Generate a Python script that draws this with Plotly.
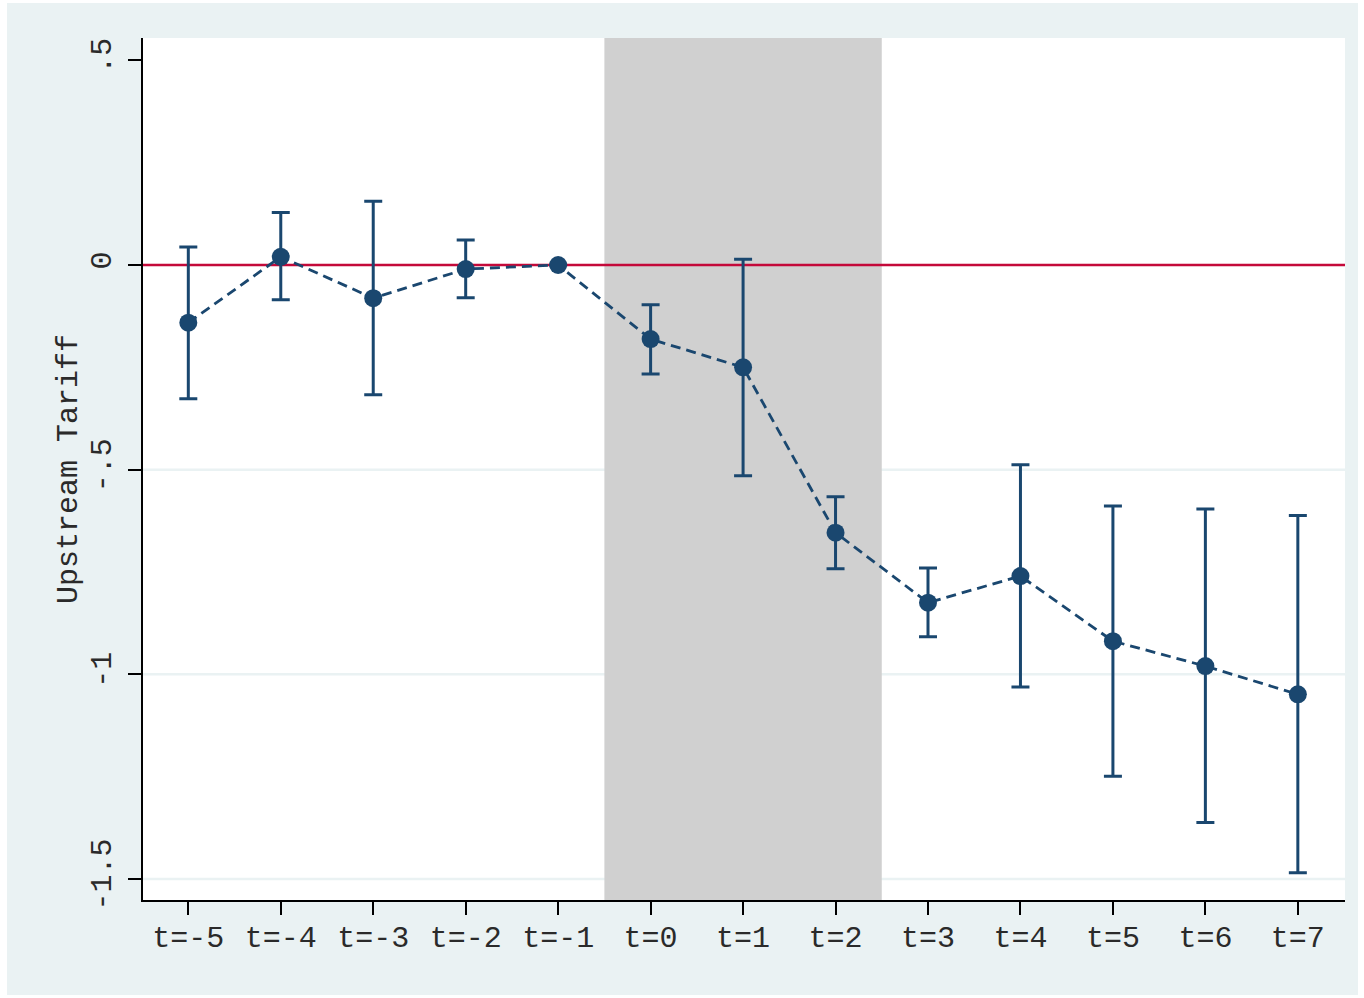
import plotly.graph_objects as go

# ---- data ----
periods = [-5, -4, -3, -2, -1, 0, 1, 2, 3, 4, 5, 6, 7]
tick_labels = ["t=-5", "t=-4", "t=-3", "t=-2", "t=-1", "t=0", "t=1",
               "t=2", "t=3", "t=4", "t=5", "t=6", "t=7"]
estimates = [-0.141, 0.020, -0.081, -0.010, 0.000, -0.181, -0.250,
             -0.654, -0.825, -0.760, -0.919, -0.980, -1.049]
ci_upper = [0.044, 0.128, 0.156, 0.061, None, -0.097, 0.014,
            -0.566, -0.740, -0.488, -0.589, -0.596, -0.612]
ci_lower = [-0.327, -0.085, -0.317, -0.080, None, -0.266, -0.515,
            -0.742, -0.908, -1.031, -1.249, -1.362, -1.485]
y_ticks = [-1.5, -1, -0.5, 0, 0.5]
y_tick_text = ["-1.5", "-1", "-.5", "0", ".5"]
grid_values = [-1.5, -1, -0.5]
shade_start, shade_end = -0.5, 2.5
reference_value = 0

err_plus = [None if u is None else u - e for u, e in zip(ci_upper, estimates)]
err_minus = [None if l is None else e - l for l, e in zip(ci_lower, estimates)]

NAVY = "#1A476F"
BG = "#EAF2F3"
FONT = "Liberation Mono, Courier New, monospace"
TXT = "#2a2a2a"

fig = go.Figure()
fig.add_trace(go.Scatter(
    x=periods, y=estimates,
    mode="lines+markers",
    line=dict(color=NAVY, width=2.8, dash="10px,6px"),
    marker=dict(color=NAVY, size=18),
    error_y=dict(type="data", symmetric=False, array=err_plus,
                 arrayminus=err_minus, color=NAVY, thickness=3, width=9),
    showlegend=False,
))

shapes = []
for g in grid_values:
    shapes.append(dict(type="line", xref="paper", x0=0, x1=1, yref="y",
                       y0=g, y1=g, line=dict(color=BG, width=2.5), layer="below"))
shapes.append(dict(type="rect", xref="x", yref="paper", x0=shade_start, x1=shade_end,
                   y0=0, y1=1, fillcolor="#D0D0D0", line=dict(width=0), layer="between"))
shapes.append(dict(type="line", xref="paper", x0=0, x1=1, yref="y",
                   y0=reference_value, y1=reference_value,
                   line=dict(color="#C4093A", width=2.5), layer="between"))
# thin white outer border around the figure
W, H = 1364, 998
ml, mr, mt, mb = 143, 19, 38, 98
pw, ph = W - ml - mr, H - mt - mb
def px(x):
    return (x - ml) / pw
def py(y):
    return (H - mb - y) / ph
for (x0, y0, x1, y1) in [(0, 0, 7, H), (W - 6, 0, W, H), (0, 0, W, 3), (0, H - 3, W, H)]:
    shapes.append(dict(type="rect", xref="paper", yref="paper",
                       x0=px(x0), x1=px(x1), y0=py(y1), y1=py(y0),
                       fillcolor="white", line=dict(width=0), layer="above"))

fig.update_layout(
    width=W, height=H,
    margin=dict(l=ml, r=mr, t=mt, b=mb),
    paper_bgcolor=BG, plot_bgcolor="white",
    font=dict(family=FONT, size=30, color=TXT),
    shapes=shapes,
    xaxis=dict(range=[-5.49, 7.51], tickmode="array", tickvals=periods,
               ticktext=tick_labels, showgrid=False, zeroline=False,
               showline=True, linecolor="black", linewidth=2,
               ticks="outside", ticklen=13, tickwidth=2, tickcolor="black",
               tickfont=dict(family=FONT, size=30, color=TXT), ticklabelstandoff=-4),
    yaxis=dict(range=[-1.5514, 0.5546], tickmode="array", tickvals=y_ticks,
               ticktext=y_tick_text, tickangle=-90, showgrid=False, zeroline=False,
               showline=True, linecolor="black", linewidth=2,
               ticks="outside", ticklen=13, tickwidth=2, tickcolor="black",
               tickfont=dict(family=FONT, size=30, color=TXT), ticklabelstandoff=5,
               title=dict(text="Upstream Tariff", font=dict(family=FONT, size=30, color=TXT),
                          standoff=0)),
)

fig.write_html("out.html", config={"displayModeBar": False},
               post_script="document.body.style.margin='0';")
